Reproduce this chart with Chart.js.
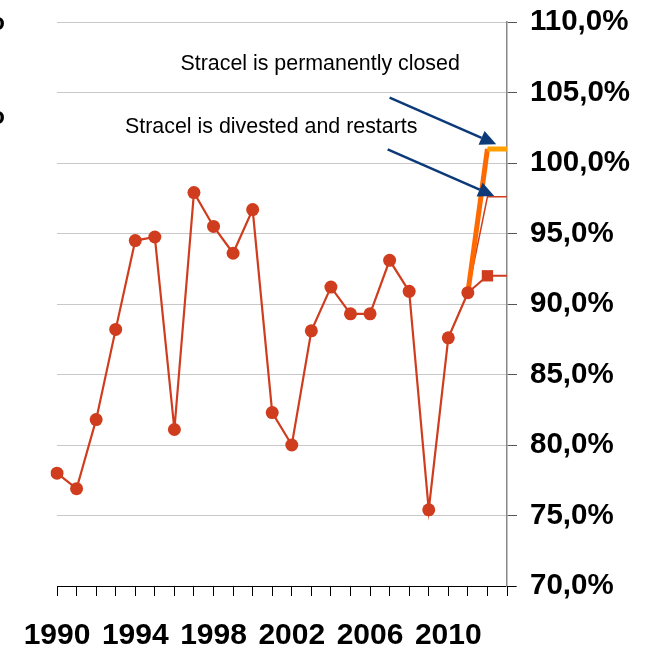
<!DOCTYPE html>
<html>
<head>
<meta charset="utf-8">
<script src="https://cdn.jsdelivr.net/npm/chart.js@4/dist/chart.umd.min.js"></script>
<style>
html,body{margin:0;padding:0;background:#fff;}
canvas{display:block;}
</style>
</head>
<body>
<canvas id="c" width="651" height="654"></canvas>
<script>
// ---- data ----
const years = ['1990','1991','1992','1993','1994','1995','1996','1997','1998','1999','2000',
               '2001','2002','2003','2004','2005','2006','2007','2008','2009','2010','2011','2012','2013'];
const actual = [78.0, 76.9, 81.8, 88.2, 94.5, 94.75, 81.1, 97.9, 95.5, 93.6, 96.7,
                82.3, 80.0, 88.1, 91.2, 89.3, 89.3, 93.1, 90.9, 75.4, 87.6, 90.8];
const scenarioYears = ['2011','2012','2013'];
const baseCase = [90.8, 92.0, 92.0];
const divestedCase = [90.8, 97.6, 97.6];
const closedCase = [90.8, 101.0, 101.0];
const yTickValues = [70, 75, 80, 85, 90, 95, 100, 105, 110];
const labelYears = ['1990','1994','1998','2002','2006','2010'];
const notes = [
  {text: 'Stracel is permanently closed', at: [13.45, 107.0], from: [17.0, 104.63], to: [22.45, 101.33]},
  {text: 'Stracel is divested and restarts', at: [10.95, 102.55], from: [16.9, 100.97], to: [22.35, 97.66]}
];

function full(vals, startYear) {
  const out = years.map(() => null);
  const s = years.indexOf(startYear);
  vals.forEach((v, i) => { out[s + i] = v; });
  return out;
}

const RED = '#cf3d1e';
const FONT = "'Liberation Sans', Arial, sans-serif";

const annotPlugin = {
  id: 'annot',
  afterDatasetsDraw(chart) {
    const ctx = chart.ctx, xs = chart.scales.x, ys = chart.scales.y;
    ctx.save();
    notes.forEach(n => {
      ctx.fillStyle = '#000';
      ctx.font = "21.4px " + FONT;
      ctx.textAlign = 'center';
      ctx.textBaseline = 'middle';
      ctx.fillText(n.text, xs.getPixelForValue(n.at[0]), ys.getPixelForValue(n.at[1]));
      const x0 = xs.getPixelForValue(n.from[0]), y0 = ys.getPixelForValue(n.from[1]);
      const x1 = xs.getPixelForValue(n.to[0]), y1 = ys.getPixelForValue(n.to[1]);
      const ang = Math.atan2(y1 - y0, x1 - x0);
      const L = 16, W = 7.5;
      const bx = x1 - L * Math.cos(ang), by = y1 - L * Math.sin(ang);
      ctx.strokeStyle = '#0c3a78';
      ctx.fillStyle = '#0c3a78';
      ctx.lineWidth = 2.5;
      ctx.beginPath(); ctx.moveTo(x0, y0); ctx.lineTo(bx, by); ctx.stroke();
      ctx.beginPath();
      ctx.moveTo(x1, y1);
      ctx.lineTo(bx + W * Math.sin(ang), by - W * Math.cos(ang));
      ctx.lineTo(bx - W * Math.sin(ang), by + W * Math.cos(ang));
      ctx.closePath(); ctx.fill();
    });
    ctx.restore();
  },
  afterDraw(chart) {
    const ctx = chart.ctx, a = chart.chartArea;
    ctx.save();
    ctx.strokeStyle = '#000'; ctx.lineWidth = 1;
    ctx.beginPath(); ctx.moveTo(a.right, a.bottom + 0.5); ctx.lineTo(a.right + 9, a.bottom + 0.5); ctx.stroke();
    ctx.fillStyle = '#000';
    ctx.font = "bold 24px " + FONT;
    ctx.textAlign = 'right'; ctx.textBaseline = 'middle';
    ctx.fillText('o', 5, 23);
    ctx.fillText('o', 5, 117);
    ctx.restore();
  }
};

new Chart(document.getElementById('c'), {
  type: 'line',
  data: {
    labels: years,
    datasets: [
      {
        data: full(actual, '1990'),
        borderColor: RED, backgroundColor: RED, borderWidth: 2.2,
        pointRadius: 6.5, pointBorderWidth: 0, pointBackgroundColor: RED,
        tension: 0, order: 0, spanGaps: false
      },
      {
        data: full(baseCase, scenarioYears[0]),
        borderColor: RED, backgroundColor: RED, borderWidth: 2,
        pointStyle: 'rect',
        pointRadius: ctx => (years[ctx.dataIndex] === '2012' ? 8 : 0),
        pointBorderWidth: 0, pointBackgroundColor: RED,
        tension: 0, order: 2
      },
      {
        data: full(divestedCase, scenarioYears[0]),
        borderColor: RED, borderWidth: 1.5, pointRadius: 0,
        tension: 0, order: 2
      },
      {
        data: full(closedCase, scenarioYears[0]),
        borderWidth: 5, pointRadius: 0, tension: 0, order: 1,
        borderColor: '#ff6a00',
        borderCapStyle: 'butt', borderJoinStyle: 'miter',
        segment: { borderColor: c => (years[c.p0DataIndex] === '2012' ? '#ffa000' : '#ff6a00') }
      }
    ]
  },
  options: {
    responsive: false,
    devicePixelRatio: 1,
    animation: false,
    layout: { padding: { left: 57, top: 22, right: 0, bottom: 0 } },
    plugins: { legend: { display: false }, tooltip: { enabled: false } },
    scales: {
      x: {
        type: 'category',
        offset: false,
        grid: { drawOnChartArea: false, drawTicks: true, tickLength: 10, tickColor: '#000', tickWidth: 1 },
        border: { color: '#000', width: 1 },
        ticks: {
          autoSkip: false, maxRotation: 0, minRotation: 0, padding: 22,
          color: '#000', font: { family: FONT, size: 30, weight: 'bold' },
          callback: function(v) { const l = this.getLabelForValue(v); return labelYears.includes(l) ? l : ''; }
        },
        afterFit: s => { s.height = 68; s.paddingLeft = 0; s.paddingRight = 0; }
      },
      y: {
        position: 'right',
        min: 70, max: 110,
        afterBuildTicks: s => { s.ticks = yTickValues.map(v => ({ value: v })); },
        grid: { color: '#c8c8c8', lineWidth: 1, tickLength: 10, tickColor: '#555', drawTicks: true },
        border: { color: '#888', width: 1.5 },
        ticks: {
          padding: 13, color: '#000',
          font: { family: FONT, size: 29.5, weight: 'bold' },
          callback: v => v.toFixed(1).replace('.', ',') + '%'
        },
        afterFit: s => { s.width = 144; s.paddingTop = 0; s.paddingBottom = 0; }
      }
    }
  },
  plugins: [annotPlugin]
});
</script>
</body>
</html>
